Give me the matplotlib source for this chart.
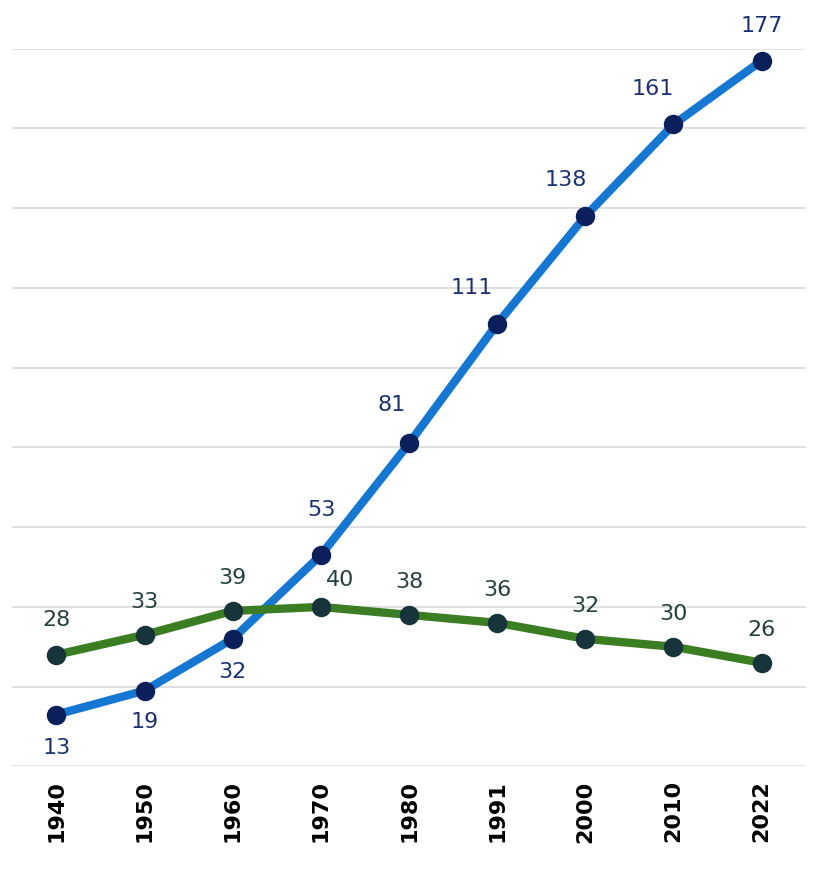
import matplotlib.pyplot as plt

years = ['1940', '1950', '1960', '1970', '1980', '1991', '2000', '2010', '2022']
blue_vals = [13, 19, 32, 53, 81, 111, 138, 161, 177]
green_vals = [28, 33, 39, 40, 38, 36, 32, 30, 26]

# label offsets in pixels (dx, dy)
blue_off = [(0, -33), (0, -31), (0, -33), (1, 45), (-17, 38), (-25, 36), (-20, 36), (-21, 35), (0, 35)]
green_off = [(0, 35), (0, 33), (0, 33), (19, 27), (0, 33), (0, 33), (0, 33), (0, 33), (0, 33)]

fig = plt.figure(figsize=(8.23, 8.86), dpi=100)
ax = fig.add_axes([0.015, 0.135, 0.964, 0.81])

x = list(range(len(years)))
ax.plot(x, blue_vals, color='#1677d2', lw=6, zorder=3)
ax.plot(x, blue_vals, 'o', color='#0b1f5b', ms=13, zorder=4)
ax.plot(x, green_vals, color='#3b7d23', lw=6, zorder=3)
ax.plot(x, green_vals, 'o', color='#17343a', ms=13, zorder=4)

for i, v in enumerate(blue_vals):
    dx, dy = blue_off[i]
    ax.annotate(str(v), (i, v), xytext=(dx * 0.72, dy * 0.72), textcoords='offset points',
                ha='center', va='center', fontsize=16, color='#1c3170')
for i, v in enumerate(green_vals):
    dx, dy = green_off[i]
    ax.annotate(str(v), (i, v), xytext=(dx * 0.72, dy * 0.72), textcoords='offset points',
                ha='center', va='center', fontsize=16, color='#25403f')

ax.set_xlim(-0.5, len(years) - 0.5)
ax.set_ylim(0, 180)
ax.set_yticks(range(0, 181, 20))
ax.yaxis.grid(True, color='#d9d9d9', lw=1.2)
ax.set_axisbelow(True)
ax.tick_params(axis='y', left=False, labelleft=False)
ax.tick_params(axis='x', length=0, pad=10)
ax.set_xticks(x)
ax.set_xticklabels(years, rotation=90, fontsize=16, fontweight='bold')
for s in ax.spines.values():
    s.set_visible(False)

fig.savefig('out.png', dpi=100)
